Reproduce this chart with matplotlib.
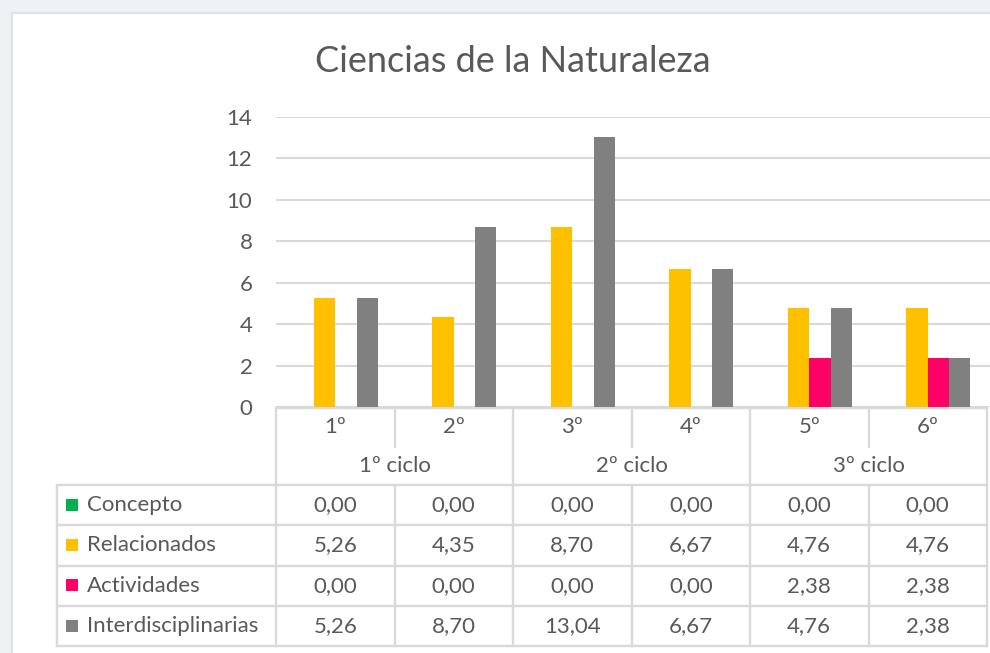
import matplotlib.pyplot as plt
from matplotlib.patches import Rectangle

# datos
CURSOS  = ["1º", "2º", "3º", "4º", "5º", "6º"]
CICLOS  = ["1º ciclo", "2º ciclo", "3º ciclo"]
SERIES  = ["Concepto", "Relacionados", "Actividades", "Interdisciplinarias"]
CONCEPTO            = [0.00, 0.00, 0.00, 0.00, 0.00, 0.00]
RELACIONADOS        = [5.26, 4.35, 8.70, 6.67, 4.76, 4.76]
ACTIVIDADES         = [0.00, 0.00, 0.00, 0.00, 2.38, 2.38]
INTERDISCIPLINARIAS = [5.26, 8.70, 13.04, 6.67, 4.76, 2.38]

COLORS = ["#00b050", "#ffc000", "#ff0066", "#808080"]
TEXT   = "#595959"
LINE   = "#d9d9d9"
FONT   = ["Lato", "DejaVu Sans"]
FS     = 16

W, H = 990, 653
# geometría en píxeles
X0, CW = 276, 118.5          # borde izquierdo de la tabla y ancho de columna
Y_BASE, Y_TOP = 407, 117     # y=0 y y=14
LAB_X0 = 57
HDR_BOTTOM = 485
ROW_H = 40.3

plt.rcParams["font.family"] = FONT

fig = plt.figure(figsize=(W / 100, H / 100), dpi=100)
fig.patch.set_facecolor("#eef2f4")

# capa de fondo en coordenadas de píxel
bg = fig.add_axes([0, 0, 1, 1], zorder=0)
bg.set_xlim(0, W)
bg.set_ylim(H, 0)
bg.axis("off")
bg.add_patch(Rectangle((12, 13), W, H, facecolor="white", edgecolor="#dde2e5", lw=1.5))

bg.text(513, 62, "Ciencias de la Naturaleza", ha="center", va="center",
        fontsize=26, color=TEXT)

# gráfico de barras
ax = fig.add_axes([X0 / W, (H - Y_BASE) / H, (W - X0) / W, (Y_BASE - Y_TOP) / H],
                  zorder=1)
ax.set_facecolor("none")
n = len(CURSOS)
bw = 0.18
vals = [CONCEPTO, RELACIONADOS, ACTIVIDADES, INTERDISCIPLINARIAS]
for i, (serie, v) in enumerate(zip(SERIES, vals)):
    xs = [k + (i - 1.5) * bw for k in range(n)]
    ax.bar(xs, v, width=bw, color=COLORS[i], zorder=3, label=serie)

ax.set_xlim(-0.5, -0.5 + (W - X0) / CW)
ax.set_ylim(0, 14)
ax.set_yticks(range(0, 15, 2))
ax.set_xticks([])
ax.tick_params(axis="y", length=0, pad=17, labelsize=FS, labelcolor=TEXT)
ax.grid(axis="y", color=LINE, lw=1.5, zorder=0)
for s in ax.spines.values():
    s.set_visible(False)

# tabla de datos
x_cols = [X0 + CW * k for k in range(n + 1)]
x_right = x_cols[-1]
rows_y = [HDR_BOTTOM + ROW_H * r for r in range(len(SERIES) + 1)]

lk = dict(color=LINE, lw=1.7, zorder=1)
bg.plot([X0, x_right], [Y_BASE + 1, Y_BASE + 1], **lk)
for y in rows_y:
    bg.plot([LAB_X0, x_right], [y, y], **lk)
bg.plot([LAB_X0, LAB_X0], [HDR_BOTTOM, rows_y[-1]], **lk)
for k, x in enumerate(x_cols):
    if k % 2 == 0:
        bg.plot([x, x], [Y_BASE + 1, rows_y[-1]], **lk)
    else:
        bg.plot([x, x], [Y_BASE + 1, 447], **lk)
        bg.plot([x, x], [HDR_BOTTOM, rows_y[-1]], **lk)

for k, c in enumerate(CURSOS):
    bg.text(X0 + CW * (k + 0.5), 427, c, ha="center", va="center",
            fontsize=FS, color=TEXT)
for j, c in enumerate(CICLOS):
    bg.text(X0 + CW * (2 * j + 1), 466, c, ha="center", va="center",
            fontsize=FS, color=TEXT)

for r, (serie, v) in enumerate(zip(SERIES, vals)):
    yc = (rows_y[r] + rows_y[r + 1]) / 2
    bg.add_patch(Rectangle((66, yc - 6.5), 12, 12, facecolor=COLORS[r], edgecolor="none"))
    bg.text(87, yc, serie, ha="left", va="center", fontsize=FS, color=TEXT)
    for k, val in enumerate(v):
        bg.text(X0 + CW * (k + 0.5), yc, f"{val:.2f}".replace(".", ","),
                ha="center", va="center", fontsize=FS, color=TEXT)

fig.savefig("out.png", dpi=100, facecolor=fig.get_facecolor())
